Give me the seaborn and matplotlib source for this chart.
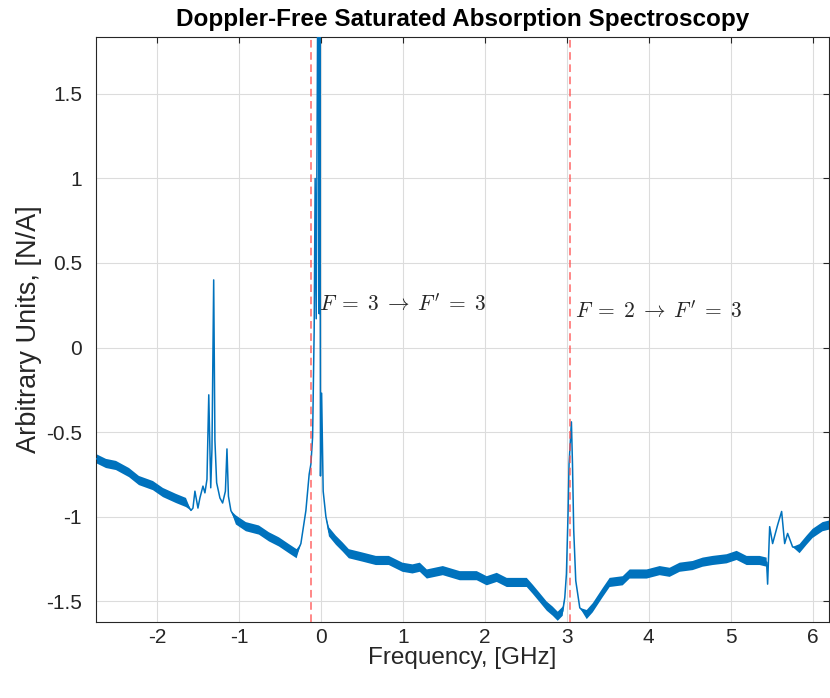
import numpy as np
import pandas as pd
import matplotlib
matplotlib.use("Agg")
import matplotlib.pyplot as plt
import seaborn as sns

# ---- data ----
freq_ghz = [-2.744, -2.622, -2.500, -2.341, -2.220, -2.049, -1.927, -1.768, -1.646,
            -1.585, -1.561, -1.537, -1.500, -1.476, -1.439, -1.415, -1.390, -1.368,
            -1.344, -1.329, -1.308, -1.293, -1.272, -1.232, -1.199, -1.165, -1.146,
            -1.128, -1.098, -1.037, -0.915, -0.756, -0.634, -0.512, -0.390, -0.296,
            -0.244, -0.183, -0.143, -0.122, -0.101, -0.082, -0.070, -0.057, -0.049,
            -0.033, -0.021, -0.012, -0.005, 0.009, 0.028, 0.061, 0.098, 0.183,
            0.265, 0.341, 0.509, 0.671, 0.829, 0.996, 1.118, 1.207, 1.293, 1.488,
            1.695, 1.902, 2.024, 2.146, 2.268, 2.512, 2.585, 2.671, 2.756, 2.829,
            2.890, 2.951, 2.976, 2.996, 3.016, 3.028, 3.057, 3.070, 3.085, 3.110,
            3.159, 3.244, 3.317, 3.439, 3.524, 3.683, 3.768, 3.976, 4.134, 4.256,
            4.378, 4.537, 4.659, 4.780, 4.951, 5.073, 5.195, 5.354, 5.439, 5.451,
            5.476, 5.512, 5.573, 5.622, 5.659, 5.695, 5.756, 5.841, 5.927, 6.000,
            6.122, 6.207]
signal = [-0.657, -0.686, -0.698, -0.740, -0.787, -0.817, -0.858, -0.893, -0.917,
          -0.964, -0.950, -0.850, -0.950, -0.890, -0.820, -0.860, -0.780, -0.280,
          -0.830, -0.600, 0.400, -0.550, -0.800, -0.890, -0.920, -0.850, -0.600,
          -0.880, -0.965, -1.020, -1.060, -1.080, -1.120, -1.150, -1.190, -1.220,
          -1.160, -0.965, -0.750, -0.690, -0.530, 0.100, 1.000, 0.170, 1.000,
          2.600, 0.200, 2.000, -0.760, -0.270, -0.850, -1.000, -1.090, -1.140,
          -1.180, -1.220, -1.240, -1.260, -1.260, -1.300, -1.310, -1.300, -1.340, -1.320,
          -1.350, -1.350, -1.380, -1.360, -1.390, -1.390, -1.430, -1.480, -1.530, -1.560,
          -1.590, -1.560, -1.480, -1.340, -0.980, -0.690, -0.440, -0.690, -1.080, -1.380,
          -1.540, -1.580, -1.540, -1.450, -1.390, -1.380, -1.340, -1.340, -1.320, -1.330,
          -1.300, -1.290, -1.270, -1.260, -1.250, -1.230, -1.260, -1.260, -1.270, -1.400,
          -1.060, -1.160, -1.050, -0.970, -1.160, -1.100, -1.180, -1.190, -1.140, -1.100,
          -1.060, -1.050]
# half-width of the noisy band around the trace
band = [0.027] * 9 + [0.0] * 20 + [0.027] * 7 + [0.0] * 16 + [0.027] * 24 + \
       [0.0] * 9 + [0.027] * 18 + [0.0] * 8 + [0.027] * 5

line_positions = [-0.12, 3.04]
annotations = [r"$F\;=\;3\;\rightarrow\;F'\;=\;3$", r"$F\;=\;2\;\rightarrow\;F'\;=\;3$"]
annot_x = [-0.02, 3.10]
annot_y = [0.25, 0.21]

x_ticks = [-2, -1, 0, 1, 2, 3, 4, 5, 6]
y_ticks = [-1.5, -1, -0.5, 0, 0.5, 1, 1.5]
y_tick_labels = ["-1.5", "-1", "-0.5", "0", "0.5", "1", "1.5"]

df = pd.DataFrame({"f": freq_ghz, "s": signal, "b": band})

sns.set_style("white")
plt.rcParams["font.family"] = ["Liberation Sans", "DejaVu Sans"]
plt.rcParams["mathtext.fontset"] = "cm"
plt.rcParams["axes.unicode_minus"] = False

blue = "#0072BD"
fig = plt.figure(figsize=(8.3, 6.98), dpi=100)
ax = fig.add_axes([96 / 830, 1 - 622 / 698, 733 / 830, 585 / 698])

ax.fill_between(df["f"], df["s"] - df["b"], df["s"] + df["b"], color=blue,
                linewidth=0, zorder=2)
sns.lineplot(data=df, x="f", y="s", ax=ax, color=blue, linewidth=1.1,
             sort=False, estimator=None, zorder=3)

for xv in line_positions:
    ax.axvline(xv, color=(1.0, 0.3, 0.3), alpha=0.85, linestyle=(0, (5, 3)),
               linewidth=1.1, zorder=4)
for t, xv, yv in zip(annotations, annot_x, annot_y):
    ax.text(xv, yv, t, fontsize=15.5, color="#262626", ha="left", va="center", zorder=5)

ax.set_xlim(-2.744, 6.2)
ax.set_ylim(-1.624, 1.837)
ax.set_xticks(x_ticks)
ax.set_xticklabels([str(v) for v in x_ticks])
ax.set_yticks(y_ticks)
ax.set_yticklabels(y_tick_labels)
ax.grid(True, color="#dcdcdc", linewidth=0.8)
ax.set_axisbelow(True)
ax.tick_params(direction="in", length=4, width=0.8, color="#262626",
               labelsize=15, labelcolor="#262626", top=True, right=True)
ax.tick_params(axis="x", pad=4)
ax.tick_params(axis="y", pad=10)
for sp in ax.spines.values():
    sp.set_color("#262626")
    sp.set_linewidth(0.8)

ax.set_xlabel("Frequency, [GHz]", fontsize=17.5, color="#262626", labelpad=0)
ax.set_ylabel("Arbitrary Units, [N/A]", fontsize=19.5, color="#262626", labelpad=3)
ax.set_title("Doppler-Free Saturated Absorption Spectroscopy", fontsize=17.5,
             fontweight="bold", color="black", pad=8)

fig.savefig("out.png", dpi=100)
